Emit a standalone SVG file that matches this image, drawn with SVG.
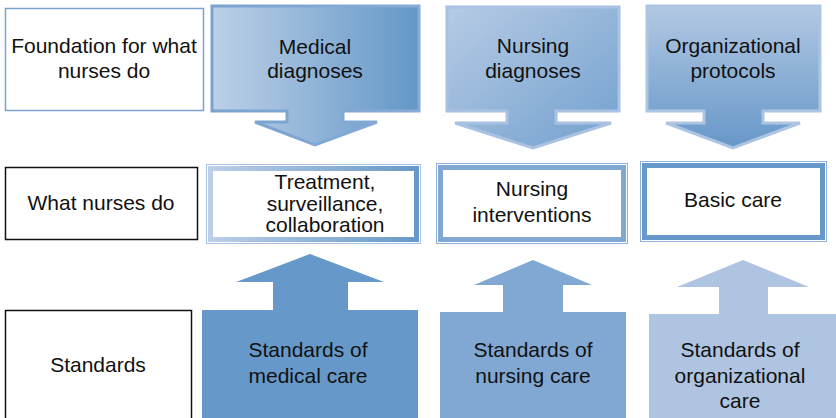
<svg xmlns="http://www.w3.org/2000/svg" width="836" height="418" viewBox="0 0 836 418">
<defs>
<linearGradient id="gMed" x1="0" y1="0" x2="1" y2="0"><stop offset="0" stop-color="#bdd0e7"/><stop offset="1" stop-color="#6497c8"/></linearGradient>
<linearGradient id="gMedS" x1="0" y1="0" x2="1" y2="0"><stop offset="0" stop-color="#7aa3d0"/><stop offset="1" stop-color="#86abd5"/></linearGradient>
<linearGradient id="gNur" x1="0" y1="0" x2="1" y2="1"><stop offset="0" stop-color="#b6cbe5"/><stop offset="1" stop-color="#72a0ce"/></linearGradient>
<linearGradient id="gOrg" x1="0" y1="0" x2="0" y2="1"><stop offset="0" stop-color="#b2c8e3"/><stop offset="1" stop-color="#6697c8"/></linearGradient>
<linearGradient id="gBand" x1="0" y1="0" x2="1" y2="0"><stop offset="0" stop-color="#bccfe6"/><stop offset="1" stop-color="#6699c9"/></linearGradient>
</defs>
<style>
text{font-family:"Liberation Sans",Arial,sans-serif;font-size:21px;fill:#111;text-anchor:middle}
</style>
<g id="row-labels">
<g id="foundation"><rect x="5.5" y="8.5" width="198" height="102" fill="#fff" stroke="#7aa3d0" stroke-width="1.5"/><text x="104" y="53">Foundation for what</text><text x="104" y="78">nurses do</text></g>
<g id="what"><rect x="5.5" y="167.5" width="192" height="72" fill="#fff" stroke="#111" stroke-width="1.5"/><text x="101" y="210">What nurses do</text></g>
<g id="standards"><rect x="5.5" y="310.5" width="186" height="110" fill="#fff" stroke="#111" stroke-width="1.5"/><text x="98" y="372">Standards</text></g>
</g>
<g id="top">
<g id="medical-diagnoses"><polygon points="212,6 419,6 419,111 343,111 343,122 377,122 315,145 255,122 287,122 287,111 212,111" fill="url(#gMed)" stroke="url(#gMedS)" stroke-width="3"/><text x="315" y="54">Medical</text><text x="315" y="78">diagnoses</text></g>
<g id="nursing-diagnoses"><polygon points="447,7 619,7 619,111 556,111 556,123 611,123 533,148 455,123 507,123 507,111 447,111" fill="url(#gNur)" stroke="#a9c2e1" stroke-width="3"/><text x="533" y="53">Nursing</text><text x="533" y="78">diagnoses</text></g>
<g id="org-protocols"><polygon points="647,6 820,6 820,111 763,111 763,123 800,123 733,148 666,123 704,123 704,111 647,111" fill="url(#gOrg)" stroke="#adc5e2" stroke-width="3"/><text x="733" y="53">Organizational</text><text x="733" y="78">protocols</text></g>
</g>
<g id="middle">
<g id="treatment"><rect x="206.5" y="164.5" width="214" height="79" fill="#fff" stroke="#a9c2e1" stroke-width="1"/><rect x="210.5" y="168.5" width="206" height="71" fill="#fff" stroke="url(#gBand)" stroke-width="5"/><text x="325" y="189">Treatment,</text><text x="325" y="211">surveillance,</text><text x="325" y="232">collaboration</text></g>
<g id="interventions"><rect x="436.5" y="163.5" width="191" height="80" fill="#fff" stroke="#8fb2da" stroke-width="1"/><rect x="440.5" y="167.5" width="183" height="72" fill="#fff" stroke="#81a8d3" stroke-width="5"/><text x="532" y="196">Nursing</text><text x="532" y="222">interventions</text></g>
<g id="basic-care"><rect x="640.5" y="161.5" width="186" height="80" fill="#fff" stroke="#8fb2da" stroke-width="1"/><rect x="644.5" y="165.5" width="178" height="72" fill="#fff" stroke="#6699c9" stroke-width="5"/><text x="733" y="207">Basic care</text></g>
</g>
<g id="bottom">
<g id="std-medical"><polygon points="202,418 202,310 273,310 273,282 236,282 310,254 384,282 348,282 348,310 418,310 418,418" fill="#6699c9"/><text x="308" y="357">Standards of</text><text x="308" y="383">medical care</text></g>
<g id="std-nursing"><polygon points="440,418 440,312 503,312 503,285 474,285 533,260 592,285 563,285 563,312 626,312 626,418" fill="#81a8d3"/><text x="533" y="357">Standards of</text><text x="533" y="383">nursing care</text></g>
<g id="std-org"><polygon points="649,418 649,314 719,314 719,287 677,287 743,260 809,287 768,287 768,314 836,314 836,418" fill="#aec4e0"/><text x="740" y="357">Standards of</text><text x="740" y="383">organizational</text><text x="740" y="408">care</text></g>
</g>
<g id="connectors"></g>
</svg>
